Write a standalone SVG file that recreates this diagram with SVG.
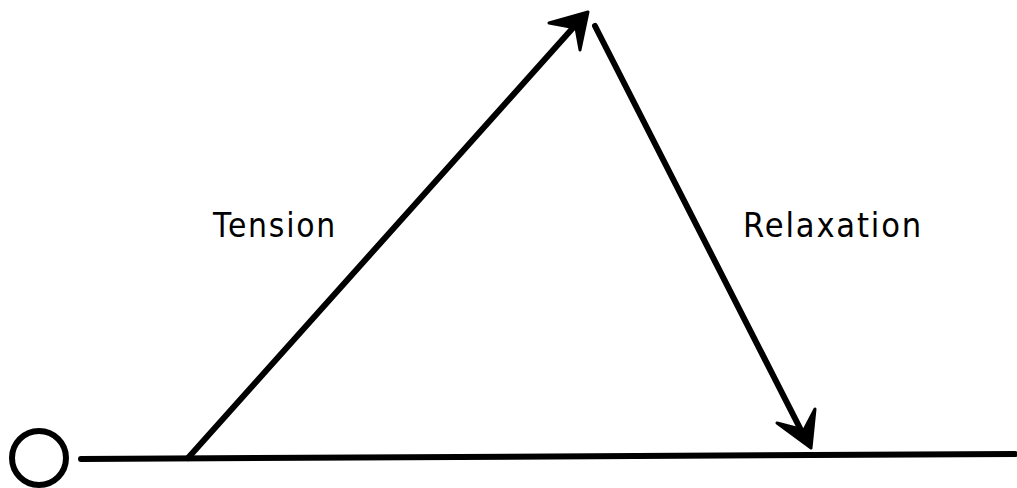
<svg xmlns="http://www.w3.org/2000/svg" width="1017" height="488" viewBox="0 0 1017 488">
<style>
.ln{stroke:#000;stroke-width:6;fill:none;stroke-linecap:round;stroke-linejoin:round}
.hd{fill:#000;stroke:#000;stroke-width:3;stroke-linejoin:round}
.lbl{font-family:"DejaVu Sans",Arial,sans-serif;font-size:34px;fill:#000;letter-spacing:2px}
</style>
<rect width="1017" height="488" fill="#fff"/>
<g id="origin"><circle cx="39" cy="458" r="27" class="ln" stroke-width="5.5"/></g>
<g id="connectors">
<path class="ln" d="M81,459 L1015,454"/>
<path class="ln" d="M188,458 L580,20"/>
<path class="hd" d="M549,23 L588,12 L580,50 L576,28 Z"/>
<path class="ln" d="M595,26 L806,440"/>
<path class="hd" d="M777,423 L811,448 L815,409 L804,430 Z"/>
</g>
<g id="label-tension"><text class="lbl" x="213" y="237" textLength="124" lengthAdjust="spacingAndGlyphs">Tension</text></g>
<g id="label-relaxation"><text class="lbl" x="743" y="237" textLength="180" lengthAdjust="spacingAndGlyphs">Relaxation</text></g>
</svg>
